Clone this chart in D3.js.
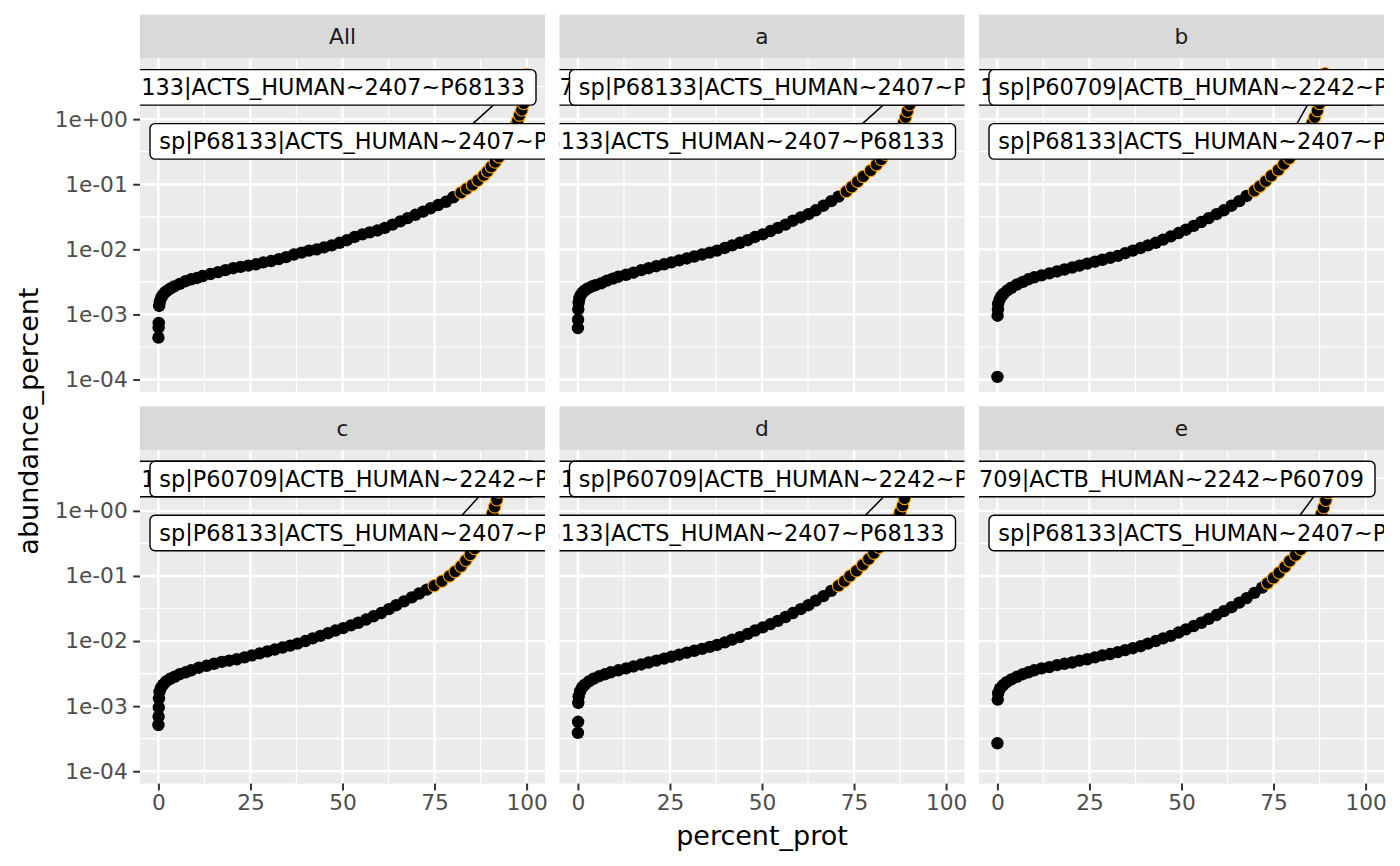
<!DOCTYPE html>
<html><head><meta charset="utf-8">
<script src="https://cdn.jsdelivr.net/npm/d3@7"></script>
<style>
body{margin:0;background:#fff}
svg{display:block}
text{font-family:"DejaVu Sans",sans-serif}
</style>
</head><body>
<svg id="chart" width="1400" height="866"></svg>
<script>
// ---------------- data ----------------
const facets = ["All", "a", "b", "c", "d", "e"];
const xTicks = [0, 25, 50, 75, 100];
const yTicks = [1e-4, 1e-3, 1e-2, 1e-1, 1];
const yTickLabels = ["1e-04", "1e-03", "1e-02", "1e-01", "1e+00"];
const xTitle = "percent_prot";
const yTitle = "abundance_percent";
const protACTS = "sp|P68133|ACTS_HUMAN~2407~P68133";
const protACTB = "sp|P60709|ACTB_HUMAN~2242~P60709";

// [percent_prot, abundance_percent]
const ptsAll = [[0,4.4e-4],[0.05,6.3e-4],[0.1,7.4e-4],[0.2,1.35e-3],[0.4,1.58e-3],[0.8,1.82e-3],[1.2,2.0e-3],[1.8,2.19e-3],[2.5,2.34e-3],[3.3,2.51e-3],[4.3,2.69e-3],[5.8,2.95e-3],[7.4,3.24e-3],[8.9,3.47e-3],[10.5,3.63e-3],[12.0,3.89e-3],[14.1,4.17e-3],[16.2,4.47e-3],[18.2,4.79e-3],[20.3,5.13e-3],[22.3,5.37e-3],[24.4,5.62e-3],[26.5,5.89e-3],[28.5,6.31e-3],[30.6,6.61e-3],[32.7,7.08e-3],[34.7,7.59e-3],[36.8,8.32e-3],[38.9,8.91e-3],[40.9,9.55e-3],[43.0,1.0e-2],[45.0,1.07e-2],[47.1,1.15e-2],[49.2,1.26e-2],[51.2,1.38e-2],[53.3,1.55e-2],[55.4,1.70e-2],[57.4,1.82e-2],[59.5,1.95e-2],[61.5,2.14e-2],[63.6,2.40e-2],[65.7,2.69e-2],[67.7,3.02e-2],[69.8,3.39e-2],[71.9,3.80e-2],[73.9,4.27e-2],[76.0,4.79e-2],[78.1,5.37e-2],[80.1,6.31e-2],[82.2,7.41e-2],[83.7,8.51e-2],[85.3,9.77e-2],[86.8,0.115],[88.4,0.138],[89.4,0.158],[90.4,0.186],[91.5,0.219],[92.5,0.263],[93.5,0.316],[94.4,0.380],[95.1,0.457],[95.8,0.550],[96.4,0.661],[97.0,0.794],[97.6,0.955],[98.1,1.15],[98.7,1.38],[99.2,1.74],[99.6,2.29],[99.8,3.16],[100,4.79]];

const ptsA = [[0,6.17e-4],[0.05,8.32e-4],[0.1,1.20e-3],[0.2,1.51e-3],[0.4,1.78e-3],[0.8,2.0e-3],[1.3,2.19e-3],[1.9,2.34e-3],[2.7,2.51e-3],[3.8,2.69e-3],[4.8,2.82e-3],[6.4,3.02e-3],[7.9,3.31e-3],[9.5,3.55e-3],[11.0,3.80e-3],[13.1,4.07e-3],[15.1,4.37e-3],[17.2,4.79e-3],[19.2,5.13e-3],[21.3,5.50e-3],[23.4,5.89e-3],[25.4,6.31e-3],[27.5,6.76e-3],[29.6,7.24e-3],[31.6,7.76e-3],[33.7,8.32e-3],[35.8,8.91e-3],[37.8,9.55e-3],[39.9,1.05e-2],[41.9,1.15e-2],[44.0,1.26e-2],[46.1,1.38e-2],[48.1,1.55e-2],[50.2,1.70e-2],[52.3,1.91e-2],[54.3,2.14e-2],[56.4,2.40e-2],[58.4,2.75e-2],[60.5,3.09e-2],[62.6,3.47e-2],[64.6,3.98e-2],[66.7,4.68e-2],[68.8,5.50e-2],[70.8,6.46e-2],[72.9,7.76e-2],[74.4,9.12e-2],[76.0,0.110],[77.5,0.132],[79.5,0.162],[81.1,0.200],[82.4,0.240],[83.5,0.288],[84.6,0.355],[85.5,0.427],[86.4,0.513],[87.2,0.617],[87.9,0.741],[88.5,0.891],[89.0,1.07],[89.5,1.32],[90.1,1.66],[90.5,2.19],[90.9,3.02],[91.3,4.37]];

const ptsB = [[0,1.1e-4],[0.05,9.55e-4],[0.15,1.20e-3],[0.2,1.45e-3],[0.6,1.70e-3],[1.1,1.91e-3],[1.7,2.09e-3],[2.7,2.34e-3],[3.8,2.57e-3],[5.3,2.88e-3],[6.9,3.16e-3],[8.4,3.47e-3],[10.0,3.72e-3],[12.0,3.98e-3],[14.1,4.27e-3],[16.2,4.57e-3],[18.2,4.90e-3],[20.3,5.25e-3],[22.3,5.62e-3],[24.4,6.03e-3],[26.5,6.46e-3],[28.5,6.92e-3],[30.6,7.41e-3],[32.7,7.94e-3],[34.7,8.71e-3],[36.8,9.55e-3],[38.9,1.05e-2],[40.9,1.15e-2],[43.0,1.26e-2],[45.0,1.41e-2],[47.1,1.58e-2],[49.2,1.78e-2],[51.2,2.00e-2],[53.3,2.29e-2],[55.4,2.63e-2],[57.4,3.02e-2],[59.5,3.47e-2],[61.5,3.98e-2],[63.6,4.68e-2],[65.7,5.50e-2],[67.7,6.61e-2],[69.8,7.94e-2],[71.3,9.33e-2],[72.9,0.112],[74.4,0.135],[76.3,0.166],[77.8,0.204],[79.3,0.251],[80.6,0.309],[81.8,0.380],[82.8,0.468],[83.8,0.575],[84.7,0.708],[85.5,0.871],[86.2,1.07],[86.9,1.35],[87.5,1.74],[88.0,2.34],[88.5,3.31],[89.0,5.01]];

const ptsC = [[0,5.13e-4],[0.05,6.92e-4],[0.1,9.55e-4],[0.15,1.32e-3],[0.3,1.66e-3],[0.7,1.91e-3],[1.3,2.14e-3],[2.1,2.40e-3],[3.2,2.63e-3],[4.4,2.82e-3],[5.8,3.09e-3],[7.4,3.31e-3],[8.9,3.55e-3],[11.0,3.89e-3],[13.1,4.17e-3],[15.1,4.47e-3],[17.2,4.79e-3],[19.2,5.01e-3],[21.3,5.25e-3],[23.4,5.62e-3],[25.4,6.03e-3],[27.5,6.46e-3],[29.6,6.92e-3],[31.6,7.41e-3],[33.7,7.94e-3],[35.8,8.51e-3],[37.8,9.12e-3],[39.9,1.0e-2],[41.9,1.10e-2],[44.0,1.20e-2],[46.1,1.32e-2],[48.1,1.45e-2],[50.2,1.58e-2],[52.3,1.74e-2],[54.3,1.91e-2],[56.4,2.14e-2],[58.4,2.40e-2],[60.5,2.69e-2],[62.6,3.09e-2],[64.6,3.55e-2],[66.7,4.07e-2],[68.8,4.68e-2],[70.8,5.37e-2],[72.9,6.17e-2],[74.9,7.08e-2],[77.0,8.32e-2],[79.1,0.100],[80.6,0.117],[82.2,0.141],[83.5,0.174],[84.7,0.214],[85.9,0.263],[86.9,0.324],[87.8,0.398],[88.7,0.490],[89.4,0.603],[90.1,0.741],[90.7,0.912],[91.3,1.15],[91.9,1.48],[92.4,1.95],[92.8,2.69],[93.2,3.98]];

const ptsD = [[0,3.89e-4],[0.05,5.75e-4],[0.1,1.12e-3],[0.2,1.41e-3],[0.6,1.70e-3],[1.2,1.95e-3],[1.9,2.14e-3],[3.0,2.40e-3],[4.2,2.63e-3],[5.8,2.88e-3],[7.4,3.09e-3],[8.9,3.31e-3],[11.0,3.55e-3],[13.1,3.80e-3],[15.1,4.07e-3],[17.2,4.37e-3],[19.2,4.68e-3],[21.3,5.01e-3],[23.4,5.37e-3],[25.4,5.75e-3],[27.5,6.17e-3],[29.6,6.61e-3],[31.6,7.08e-3],[33.7,7.59e-3],[35.8,8.13e-3],[37.8,8.71e-3],[39.9,9.55e-3],[41.9,1.05e-2],[44.0,1.15e-2],[46.1,1.29e-2],[48.1,1.45e-2],[50.2,1.62e-2],[52.3,1.82e-2],[54.3,2.04e-2],[56.4,2.34e-2],[58.4,2.69e-2],[60.5,3.09e-2],[62.6,3.55e-2],[64.6,4.17e-2],[66.7,4.90e-2],[68.8,5.89e-2],[70.8,7.08e-2],[72.4,8.32e-2],[73.9,0.100],[75.7,0.120],[77.4,0.148],[79.0,0.182],[80.4,0.224],[81.8,0.275],[83.0,0.339],[84.0,0.417],[85.0,0.513],[85.9,0.631],[86.8,0.776],[87.5,0.955],[88.2,1.20],[88.7,1.55],[89.2,2.04],[89.6,2.82],[90.0,4.17]];

const ptsE = [[0,2.69e-4],[0.1,1.26e-3],[0.2,1.58e-3],[0.7,1.86e-3],[1.5,2.09e-3],[2.5,2.34e-3],[3.8,2.57e-3],[5.3,2.82e-3],[6.9,3.09e-3],[8.4,3.31e-3],[10.0,3.55e-3],[12.0,3.80e-3],[14.1,3.98e-3],[16.2,4.27e-3],[18.2,4.47e-3],[20.3,4.68e-3],[22.3,5.01e-3],[24.4,5.25e-3],[26.5,5.62e-3],[28.5,6.03e-3],[30.6,6.31e-3],[32.7,6.76e-3],[34.7,7.24e-3],[36.8,7.76e-3],[38.9,8.32e-3],[40.9,9.12e-3],[43.0,1.0e-2],[45.0,1.10e-2],[47.1,1.20e-2],[49.2,1.35e-2],[51.2,1.51e-2],[53.3,1.70e-2],[55.4,1.91e-2],[57.4,2.19e-2],[59.5,2.51e-2],[61.5,2.88e-2],[63.6,3.31e-2],[65.7,3.89e-2],[67.7,4.57e-2],[69.8,5.50e-2],[71.9,6.61e-2],[73.4,7.76e-2],[75.0,9.33e-2],[76.5,0.112],[78.1,0.138],[79.4,0.170],[81.0,0.209],[82.4,0.257],[83.6,0.316],[84.7,0.389],[85.6,0.479],[86.5,0.589],[87.3,0.724],[88.0,0.891],[88.6,1.12],[89.2,1.45],[89.8,1.91],[90.2,2.63],[90.6,3.80]];

const seriesByFacet = {All: ptsAll, a: ptsA, b: ptsB, c: ptsC, d: ptsD, e: ptsE};

// repel labels (slot 1 = upper row, slot 2 = lower row; anchor L/R = box stuck to left/right of panel)
const labelsByFacet = {
  All: [{slot: 2, anchor: "L", text: protACTS, seg: 333}, {slot: 1, anchor: "R", text: protACTS}],
  a:   [{slot: 2, anchor: "R", text: protACTS, seg: 303}, {slot: 1, anchor: "R", text: protACTB}, {slot: 1, anchor: "L", text: protACTS}],
  b:   [{slot: 2, anchor: "L", text: protACTS, seg: 318}, {slot: 1, anchor: "R", text: protACTS}, {slot: 1, anchor: "L", text: protACTB}],
  c:   [{slot: 2, anchor: "L", text: protACTS, seg: 322}, {slot: 1, anchor: "R", text: protACTS}, {slot: 1, anchor: "L", text: protACTB}],
  d:   [{slot: 2, anchor: "R", text: protACTS, seg: 306}, {slot: 1, anchor: "R", text: protACTS}, {slot: 1, anchor: "L", text: protACTB}],
  e:   [{slot: 2, anchor: "L", text: protACTS, seg: 321}, {slot: 1, anchor: "R", text: protACTB}]
};

// ---------------- layout ----------------
const W = 1400, H = 866;
const colLeft = [140, 559.5, 979];
const stripTop = [14.6, 406.3];
const stripH = 44;
const pw = 405, ph = 333.3;
const slotTop = {1: 11, 2: 65};
const boxH = 35.5, padL = 9.3, padR = 11;
const labelFont = 22.4, tickFont = 21.7, titleFont = 27;
const ptR = 6.2, rimFrom = 0.07;

const svg = d3.select("#chart");
svg.append("rect").attr("width", W).attr("height", H).attr("fill", "#fff");

const x = d3.scaleLinear().domain([-5, 105]).range([0, pw]);
const y = d3.scaleLog().domain([Math.pow(10, -4.19), Math.pow(10, 0.93)]).range([ph, 0]);

const xMinor = d3.pairs(xTicks).map(([a, b]) => (a + b) / 2);
const yMinor = d3.pairs(yTicks).map(([a, b]) => Math.sqrt(a * b)).concat([Math.sqrt(10)]);

const defs = svg.append("defs");
defs.append("clipPath").attr("id", "pclip").append("rect").attr("width", pw).attr("height", ph);

facets.forEach((f, i) => {
  const col = i % 3, row = Math.floor(i / 3);
  const left = colLeft[col];
  const sTop = stripTop[row];
  const pTop = sTop + stripH;

  // strip
  svg.append("rect").attr("x", left).attr("y", sTop).attr("width", pw).attr("height", stripH).attr("fill", "#D9D9D9");
  svg.append("text").attr("x", left + pw / 2).attr("y", sTop + stripH / 2).attr("dy", "0.36em")
    .attr("text-anchor", "middle").attr("font-size", tickFont).attr("fill", "#1A1A1A").text(f);

  const g = svg.append("g").attr("transform", `translate(${left},${pTop})`);
  g.append("rect").attr("width", pw).attr("height", ph).attr("fill", "#EBEBEB");

  // grid
  g.selectAll(".xmin").data(xMinor).join("line").attr("x1", d => x(d)).attr("x2", d => x(d))
    .attr("y1", 0).attr("y2", ph).attr("stroke", "#fff").attr("stroke-width", 1.2);
  g.selectAll(".ymin").data(yMinor).join("line").attr("y1", d => y(d)).attr("y2", d => y(d))
    .attr("x1", 0).attr("x2", pw).attr("stroke", "#fff").attr("stroke-width", 1.2);
  g.selectAll(".xmaj").data(xTicks).join("line").attr("x1", d => x(d)).attr("x2", d => x(d))
    .attr("y1", 0).attr("y2", ph).attr("stroke", "#fff").attr("stroke-width", 2.4);
  g.selectAll(".ymaj").data(yTicks).join("line").attr("y1", d => y(d)).attr("y2", d => y(d))
    .attr("x1", 0).attr("x2", pw).attr("stroke", "#fff").attr("stroke-width", 2.4);

  const inner = g.append("g").attr("clip-path", "url(#pclip)");
  const pts = seriesByFacet[f];

  inner.selectAll("circle").data(pts).join("circle")
    .attr("cx", d => x(d[0])).attr("cy", d => y(d[1])).attr("r", ptR)
    .attr("fill", "#000")
    .attr("stroke", d => d[1] >= rimFrom ? "#FFA500" : "none")
    .attr("stroke-width", 1.1);

  // segment to the top protein
  const tip = pts[pts.length - 1];
  const labs = labelsByFacet[f];
  labs.filter(l => l.seg != null).forEach(l => {
    inner.append("line").attr("x1", l.seg).attr("y1", slotTop[l.slot])
      .attr("x2", x(tip[0])).attr("y2", y(tip[1]))
      .attr("stroke", "#000").attr("stroke-width", 1.5);
  });

  // labels
  labs.forEach(l => {
    const lg = inner.append("g");
    const rect = lg.append("rect");
    const t = lg.append("text").attr("font-size", labelFont).attr("fill", "#000").text(l.text)
      .attr("y", slotTop[l.slot] + boxH / 2).attr("dy", "0.36em");
    const tw = t.node().getComputedTextLength();
    const bw = tw + padL + padR;
    const bx = l.anchor === "L" ? 10 : (pw - 9) - bw;
    t.attr("x", bx + padL);
    rect.attr("x", bx).attr("y", slotTop[l.slot]).attr("width", bw).attr("height", boxH)
      .attr("rx", 5).attr("ry", 5).attr("fill", "#fff").attr("stroke", "#000").attr("stroke-width", 1.4);
  });

  // y axis on first column
  if (col === 0) {
    const ax = svg.append("g").attr("transform", `translate(${left},${pTop})`)
      .call(d3.axisLeft(y).tickValues(yTicks).tickFormat((d, k) => yTickLabels[k]).tickSize(6.8).tickPadding(5.5));
    ax.select(".domain").remove();
    ax.selectAll(".tick line").attr("stroke", "#333").attr("stroke-width", 2);
    ax.selectAll(".tick text").attr("font-size", tickFont).attr("fill", "#4D4D4D").attr("font-family", "DejaVu Sans");
  }
  // x axis on bottom row
  if (row === 1) {
    const ax = svg.append("g").attr("transform", `translate(${left},${pTop + ph})`)
      .call(d3.axisBottom(x).tickValues(xTicks).tickFormat(d3.format("d")).tickSize(6.8).tickPadding(4));
    ax.select(".domain").remove();
    ax.selectAll(".tick line").attr("stroke", "#333").attr("stroke-width", 2);
    ax.selectAll(".tick text").attr("font-size", tickFont).attr("fill", "#4D4D4D").attr("font-family", "DejaVu Sans");
  }
});

// axis titles
svg.append("text").attr("x", (colLeft[0] + colLeft[2] + pw) / 2).attr("y", 845)
  .attr("text-anchor", "middle").attr("font-size", titleFont).attr("fill", "#000").text(xTitle);
svg.append("text").attr("transform", `translate(38,${(stripTop[0] + stripH + stripTop[1] + stripH + ph) / 2}) rotate(-90)`)
  .attr("text-anchor", "middle").attr("font-size", titleFont).attr("fill", "#000").text(yTitle);
</script>
</body></html>
